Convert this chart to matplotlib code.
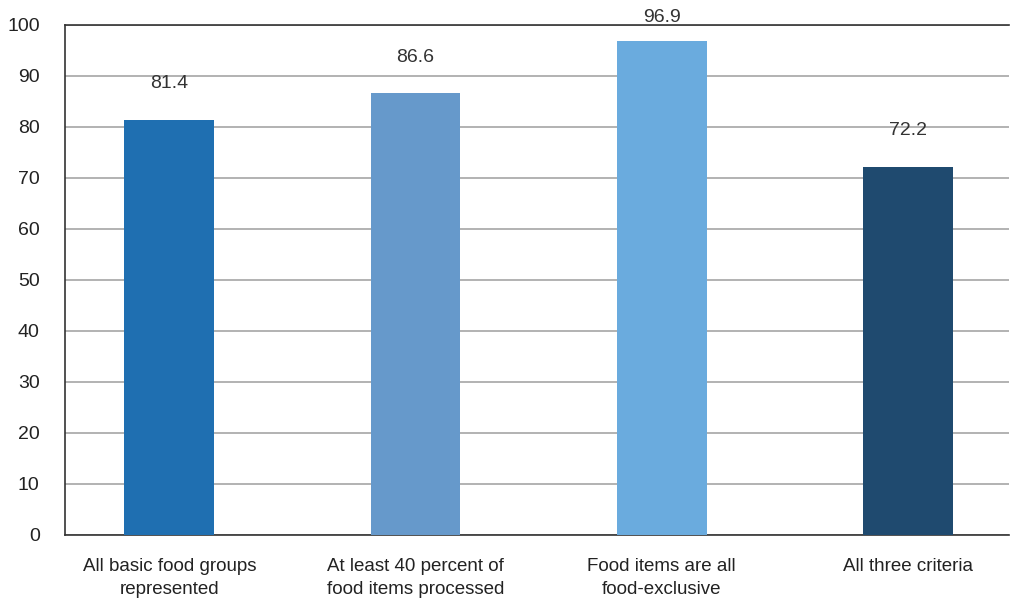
import matplotlib.pyplot as plt

plt.rcParams['font.family'] = ['Liberation Sans', 'DejaVu Sans']

categories = ['All basic food groups\nrepresented',
              'At least 40 percent of\nfood items processed',
              'Food items are all\nfood-exclusive',
              'All three criteria']
values = [81.4, 86.6, 96.9, 72.2]
colors = ['#1F6FB1', '#6699CB', '#6AABDE', '#1F4A6F']

fig = plt.figure(figsize=(10.1, 6.03), dpi=100)
ax = fig.add_axes([0.064, 0.113, 0.935, 0.846])

x = range(len(values))
ax.bar(x, values, width=0.365, color=colors, zorder=3)

for i, v in enumerate(values):
    ax.text(i, min(v + 7, 101.4), f'{v:.1f}', ha='center', va='center',
            fontsize=14, color='#333333', clip_on=False)

ax.set_ylim(0, 100)
ax.set_xlim(-0.425, 3.41)
ax.set_yticks(range(0, 101, 10))
ax.set_xticks(list(x))
ax.set_xticklabels(categories, fontsize=13.5, color='#222222', linespacing=1.45)
ax.tick_params(axis='y', labelsize=14, labelcolor='#222222', length=0, pad=18)
ax.tick_params(axis='x', length=0, pad=17)
ax.grid(axis='y', color='#A6A6A6', linewidth=1.2, zorder=0)

for side in ['left', 'bottom', 'top']:
    ax.spines[side].set_color('#333333')
    ax.spines[side].set_linewidth(1.2)
ax.spines['right'].set_visible(False)

fig.savefig('out.png', dpi=100)
